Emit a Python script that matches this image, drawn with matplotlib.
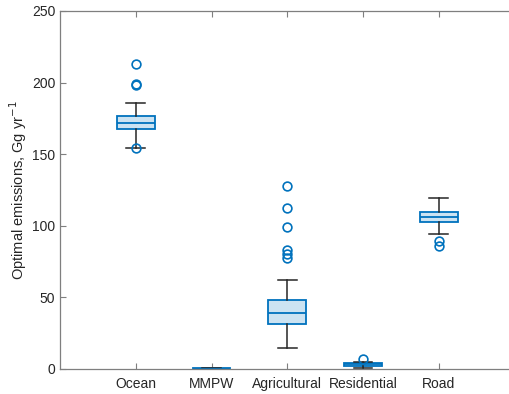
import matplotlib
matplotlib.use("Agg")
import matplotlib.pyplot as plt

plt.rcParams['font.family'] = ['Liberation Sans', 'DejaVu Sans']

# box statistics
categories = ["Ocean", "MMPW", "Agricultural", "Residential", "Road"]
medians = [172.0, 0.3, 39.3, 3.3, 106.0]
q1 = [167.8, 0.2, 31.5, 2.4, 102.8]
q3 = [176.5, 0.4, 48.0, 3.9, 109.8]
whisker_low = [154.5, 0.1, 14.5, 0.8, 94.0]
whisker_high = [186.0, 0.5, 62.5, 4.8, 119.5]
outliers = [
    [213.0, 198.0, 199.0, 154.0],
    [],
    [128.0, 112.5, 99.5, 83.0, 80.0, 77.5],
    [6.8],
    [89.5, 86.0],
]

blue = '#0072BD'
face = '#CCE3F2'
axis_gray = '#7f7f7f'


def build_stats():
    stats = []
    for i in range(len(categories)):
        stats.append({
            "label": categories[i],
            "med": medians[i],
            "q1": q1[i],
            "q3": q3[i],
            "whislo": whisker_low[i],
            "whishi": whisker_high[i],
            "fliers": outliers[i],
        })
    return stats


def main():
    fig = plt.figure(figsize=(5.09, 3.94), dpi=100)
    # axes runs past the right edge of the picture (cropped figure)
    ax = fig.add_axes([60 / 509, 25 / 394, 454.5 / 509, 358 / 394])

    positions = list(range(1, len(categories) + 1))
    ax.bxp(build_stats(), positions=positions, widths=0.5, capwidths=0.25,
           patch_artist=True, showfliers=True,
           boxprops=dict(facecolor=face, edgecolor=blue, linewidth=1.3),
           medianprops=dict(color=blue, linewidth=1.3),
           whiskerprops=dict(color='#262626', linewidth=1.1),
           capprops=dict(color='#262626', linewidth=1.1),
           flierprops=dict(marker='o', markerfacecolor='none',
                           markeredgecolor=blue, markersize=6.3,
                           markeredgewidth=1.2, linestyle='none'))

    ax.set_xlim(0, 6)
    ax.set_ylim(0, 250)
    ax.set_yticks([0, 50, 100, 150, 200, 250])
    ax.set_xticks(positions)
    ax.set_xticklabels(categories)
    ax.tick_params(direction='in', length=4, width=0.8, colors=axis_gray,
                   labelcolor='#262626', labelsize=10, top=True, right=True)
    ax.tick_params(axis='x', pad=6)
    for sp in ax.spines.values():
        sp.set_color(axis_gray)
        sp.set_linewidth(0.9)
    ax.set_ylabel("Optimal emissions, Gg yr$^{-1}$", fontsize=10.5,
                  color='#262626', labelpad=2)

    fig.savefig("out.png", dpi=100)


if __name__ == '__main__':
    main()
